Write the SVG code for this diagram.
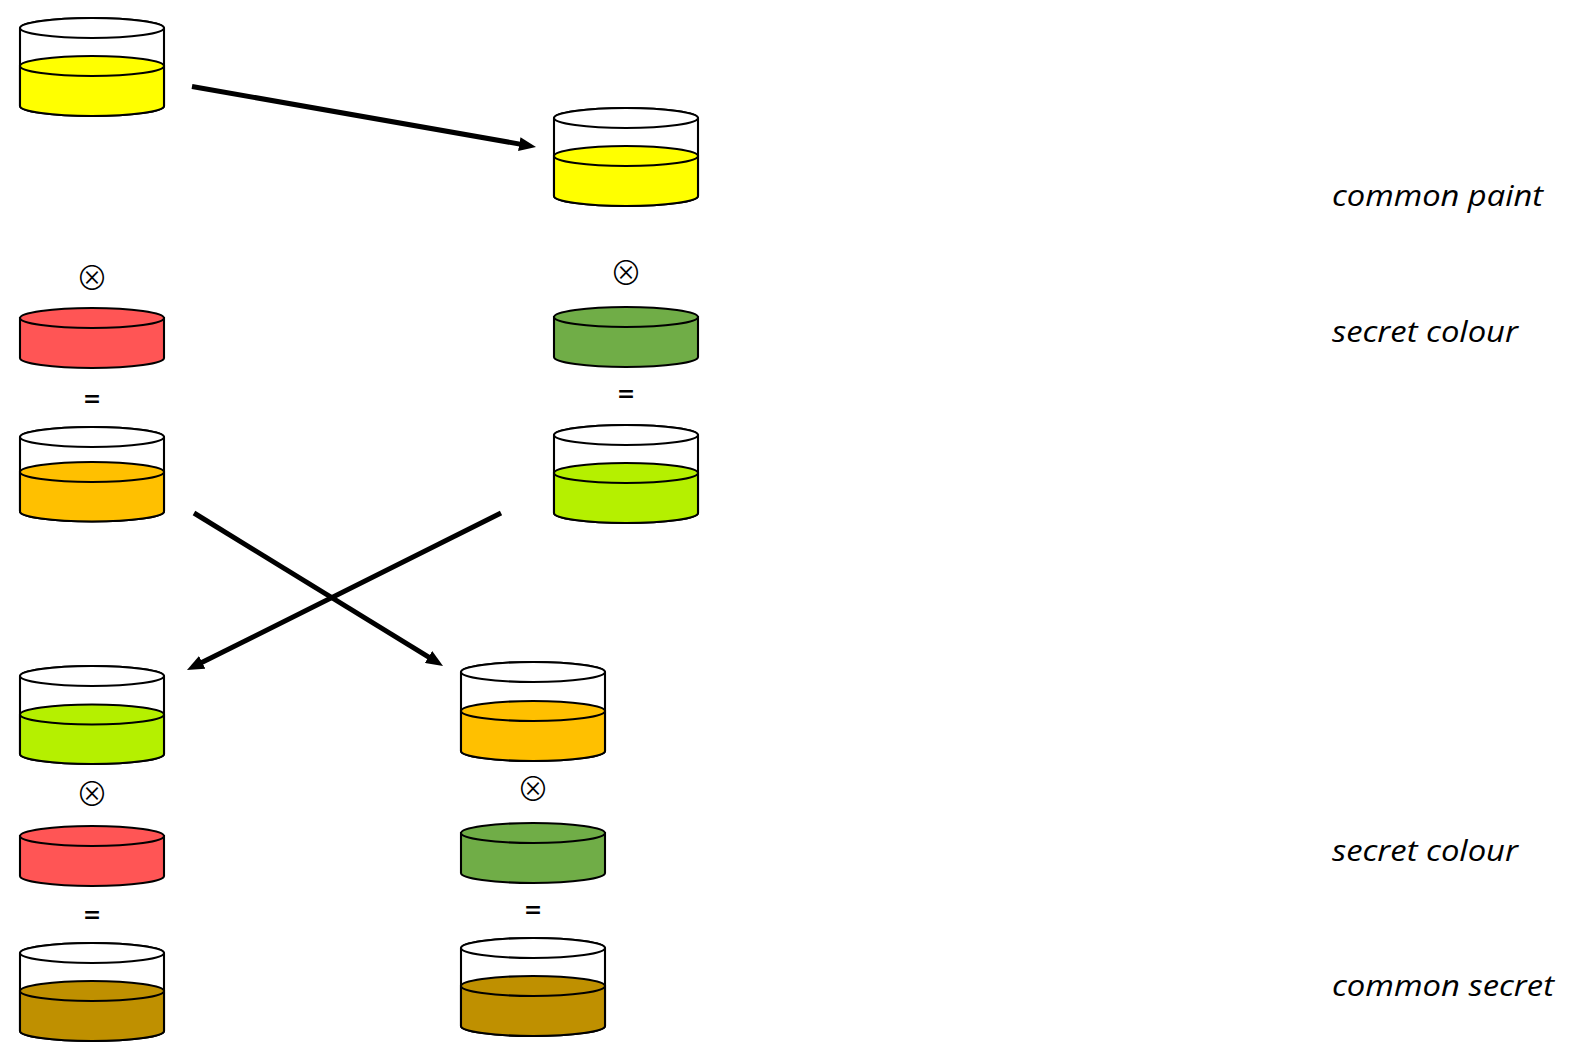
<svg xmlns="http://www.w3.org/2000/svg" width="1571" height="1054" viewBox="0 0 1571 1054">
<style>
.o{stroke:#000;stroke-width:2.1}
.e{fill:#fff}
.y{fill:#ff0}.r{fill:#f55}.g{fill:#70ad47}.a{fill:#ffc000}.l{fill:#b5f000}.b{fill:#bf9000}
.c{stroke:#000;stroke-width:5;fill:none;marker-end:url(#h)}
.t{font-family:"Open Sans","Noto Sans",sans-serif;font-style:italic;font-size:29.5px;fill:#000}
.s{font-family:"Noto Sans CJK SC",sans-serif;font-weight:300;font-size:32.500px;fill:#000;text-anchor:middle}
.q{font-family:"Open Sans",sans-serif;font-weight:600;font-size:29px;fill:#000;text-anchor:middle}
</style>
<defs>
<marker id="h" viewBox="0 0 17 14" refX="5" refY="7" markerWidth="17" markerHeight="14" markerUnits="userSpaceOnUse" orient="auto"><path d="M0 0L17 7L0 14Z" fill="#000"/></marker>
</defs>
<g id="connectors">
<path class="c" d="M192 86.500L524.200 144.900"/>
<path class="c" d="M194 513L432.800 659.700"/>
<path class="c" d="M501 513L197.700 664.600"/>
</g>
<g id="beaker-a" class="o"><path class="e" d="M20 28V106A72 10 0 0 0 164 106V28A72 10 0 0 0 20 28Z"/><ellipse class="e" cx="92" cy="28" rx="72" ry="10"/><path class="y" d="M20 66V106A72 10 0 0 0 164 106V66Z"/><ellipse class="y" cx="92" cy="66" rx="72" ry="10"/></g>
<g id="beaker-b" class="o"><path class="e" d="M554 118V196A72 10 0 0 0 698 196V118A72 10 0 0 0 554 118Z"/><ellipse class="e" cx="626" cy="118" rx="72" ry="10"/><path class="y" d="M554 156V196A72 10 0 0 0 698 196V156Z"/><ellipse class="y" cx="626" cy="156" rx="72" ry="10"/></g>
<g id="times-a"><text class="s" x="92" y="290">⊗</text></g>
<g id="times-b"><text class="s" x="626" y="285">⊗</text></g>
<g id="secret-red-a" class="o"><path class="r" d="M20 318V358A72 10 0 0 0 164 358V318Z"/><ellipse class="r" cx="92" cy="318" rx="72" ry="10"/></g>
<g id="secret-green-b" class="o"><path class="g" d="M554 317V357A72 10 0 0 0 698 357V317Z"/><ellipse class="g" cx="626" cy="317" rx="72" ry="10"/></g>
<g id="equals-a"><text class="q" x="92" y="409">=</text></g>
<g id="equals-b"><text class="q" x="626" y="404">=</text></g>
<g id="beaker-orange-a" class="o"><path class="e" d="M20 437V511.500A72 10 0 0 0 164 511.500V437A72 10 0 0 0 20 437Z"/><ellipse class="e" cx="92" cy="437" rx="72" ry="10"/><path class="a" d="M20 472V511.500A72 10 0 0 0 164 511.500V472Z"/><ellipse class="a" cx="92" cy="472" rx="72" ry="10"/></g>
<g id="beaker-lime-b" class="o"><path class="e" d="M554 435V513A72 10 0 0 0 698 513V435A72 10 0 0 0 554 435Z"/><ellipse class="e" cx="626" cy="435" rx="72" ry="10"/><path class="l" d="M554 473V513A72 10 0 0 0 698 513V473Z"/><ellipse class="l" cx="626" cy="473" rx="72" ry="10"/></g>
<g id="beaker-lime-c" class="o"><path class="e" d="M20 676V754A72 10 0 0 0 164 754V676A72 10 0 0 0 20 676Z"/><ellipse class="e" cx="92" cy="676" rx="72" ry="10"/><path class="l" d="M20 714.500V754A72 10 0 0 0 164 754V714.500Z"/><ellipse class="l" cx="92" cy="714.500" rx="72" ry="10"/></g>
<g id="beaker-orange-d" class="o"><path class="e" d="M461 672V751A72 10 0 0 0 605 751V672A72 10 0 0 0 461 672Z"/><ellipse class="e" cx="533" cy="672" rx="72" ry="10"/><path class="a" d="M461 711V751A72 10 0 0 0 605 751V711Z"/><ellipse class="a" cx="533" cy="711" rx="72" ry="10"/></g>
<g id="times-c"><text class="s" x="92" y="806">⊗</text></g>
<g id="times-d"><text class="s" x="533" y="801">⊗</text></g>
<g id="secret-red-c" class="o"><path class="r" d="M20 836V876A72 10 0 0 0 164 876V836Z"/><ellipse class="r" cx="92" cy="836" rx="72" ry="10"/></g>
<g id="secret-green-d" class="o"><path class="g" d="M461 833V873A72 10 0 0 0 605 873V833Z"/><ellipse class="g" cx="533" cy="833" rx="72" ry="10"/></g>
<g id="equals-c"><text class="q" x="92" y="925">=</text></g>
<g id="equals-d"><text class="q" x="533" y="920">=</text></g>
<g id="beaker-brown-c" class="o"><path class="e" d="M20 953V1031A72 10 0 0 0 164 1031V953A72 10 0 0 0 20 953Z"/><ellipse class="e" cx="92" cy="953" rx="72" ry="10"/><path class="b" d="M20 991V1031A72 10 0 0 0 164 1031V991Z"/><ellipse class="b" cx="92" cy="991" rx="72" ry="10"/></g>
<g id="beaker-brown-d" class="o"><path class="e" d="M461 948V1026A72 10 0 0 0 605 1026V948A72 10 0 0 0 461 948Z"/><ellipse class="e" cx="533" cy="948" rx="72" ry="10"/><path class="b" d="M461 986V1026A72 10 0 0 0 605 1026V986Z"/><ellipse class="b" cx="533" cy="986" rx="72" ry="10"/></g>
<g id="label-common-paint"><text class="t" x="1332" y="206" textLength="211" lengthAdjust="spacingAndGlyphs">common paint</text></g>
<g id="label-secret-colour-1"><text class="t" x="1332" y="342" textLength="186" lengthAdjust="spacingAndGlyphs">secret colour</text></g>
<g id="label-secret-colour-2"><text class="t" x="1332" y="861" textLength="186" lengthAdjust="spacingAndGlyphs">secret colour</text></g>
<g id="label-common-secret"><text class="t" x="1332" y="996" textLength="222" lengthAdjust="spacingAndGlyphs">common secret</text></g>
</svg>
